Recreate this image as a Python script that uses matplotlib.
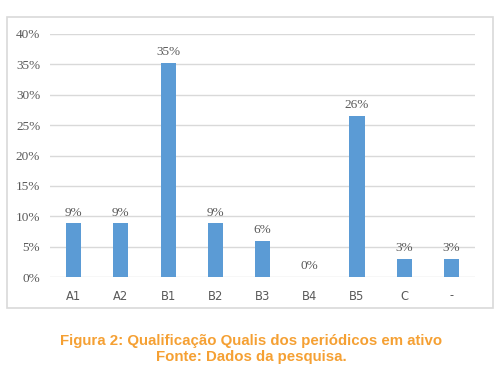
import numpy as np
import matplotlib.pyplot as plt
from matplotlib.patches import Rectangle

categorias = ['A1', 'A2', 'B1', 'B2', 'B3', 'B4', 'B5', 'C', '-']
valores = [3/34, 3/34, 12/34, 3/34, 2/34, 0, 9/34, 1/34, 1/34]
rotulos = ['9%', '9%', '35%', '9%', '6%', '0%', '26%', '3%', '3%']
yticks = [0, 0.05, 0.10, 0.15, 0.20, 0.25, 0.30, 0.35, 0.40]
ytick_labels = ['0%', '5%', '10%', '15%', '20%', '25%', '30%', '35%', '40%']

plt.rcParams['font.family'] = 'serif'
plt.rcParams['font.serif'] = ['Liberation Serif', 'DejaVu Serif']

W, H = 503, 381
fig = plt.figure(figsize=(W / 100, H / 100), dpi=100)
fig.patch.set_facecolor('white')

# moldura do grafico
fig.patches.append(Rectangle((7 / W, 1 - 308 / H), (493 - 7) / W, (308 - 17) / H,
                             transform=fig.transFigure, fill=False,
                             edgecolor='#D9D9D9', linewidth=1.2))

ax = fig.add_axes([50 / W, 1 - 277 / H, (475 - 50) / W, (277 - 34) / H])
x = np.arange(len(categorias))
ax.bar(x, valores, width=0.32, color='#5B9BD5', zorder=3)
ax.set_xlim(-0.5, len(categorias) - 0.5)
ax.set_ylim(0, 0.40)
ax.set_yticks(yticks)
ax.set_yticklabels(ytick_labels, fontsize=9.5, color='#595959')
ax.set_xticks(x)
ax.set_xticklabels(categorias, family='sans-serif', fontsize=8.3, color='#595959')
ax.tick_params(length=0, pad=9)
ax.tick_params(axis='y', pad=7)
ax.grid(axis='y', color='#D9D9D9', linewidth=1, zorder=0)
for s in ax.spines.values():
    s.set_visible(False)

for xi, v, r in zip(x, valores, rotulos):
    ax.text(xi, v + 0.008, r, ha='center', va='bottom', fontsize=9.5, color='#595959')

cap = dict(ha='center', va='center', family='Liberation Sans', fontweight='bold',
           fontsize=10.8, color='#F5A033')
fig.text(0.5, 1 - 341 / H, 'Figura 2: Qualificação Qualis dos periódicos em ativo', **cap)
fig.text(0.5, 1 - 357 / H, 'Fonte: Dados da pesquisa.', **cap)

fig.savefig('out.png', dpi=100)
